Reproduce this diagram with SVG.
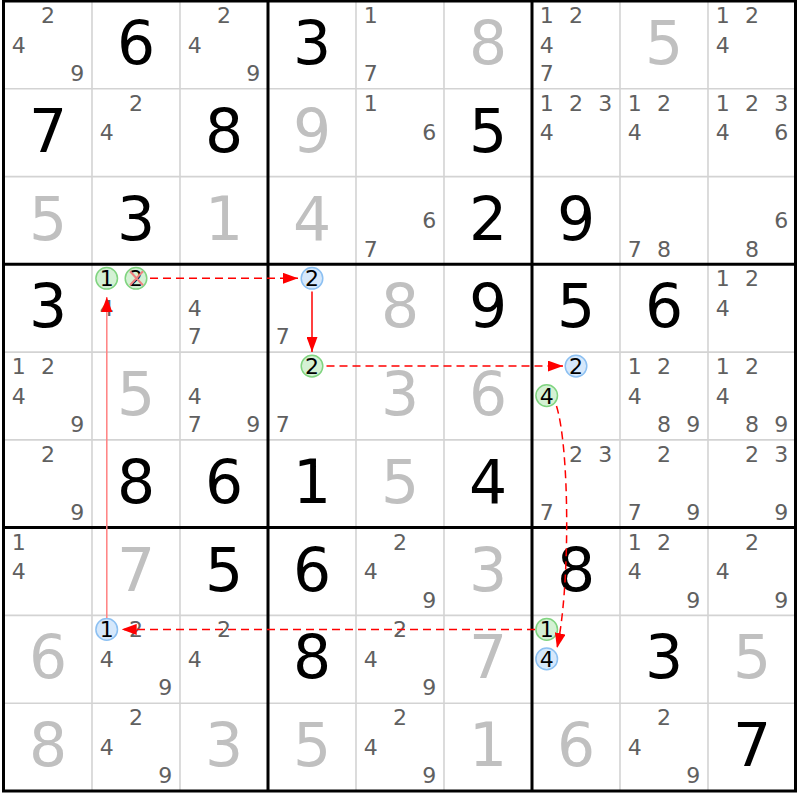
<svg xmlns="http://www.w3.org/2000/svg" width="800" height="800" viewBox="0 0 800 800">
<style>
text{font-family:"DejaVu Sans","Noto Sans",sans-serif}
.g{font-size:60px;fill:#000;text-anchor:middle}
.s{font-size:60px;fill:#c0c0c0;text-anchor:middle}
.c{font-size:22px;fill:#606060;text-anchor:middle}
.k{font-size:22px;fill:#000;text-anchor:middle}
.thin{stroke:#d3d3d3;stroke-width:1.6}
.thick{stroke:#000;stroke-width:3}
.hg{fill:#d4f1d4;stroke:#80d480;stroke-width:1.5}
.hb{fill:#d6e8fb;stroke:#8cc0f2;stroke-width:1.5}
.dash{stroke:#ff0000;stroke-width:1.5;stroke-dasharray:8 5;fill:none}
.sol{stroke:#ff0000;stroke-width:1.5;fill:none}
</style>
<defs>
<marker id="ah" viewBox="0 0 15 11" markerUnits="userSpaceOnUse" markerWidth="15" markerHeight="11" refX="15" refY="5.5" orient="auto"><path d="M0,0 L15,5.5 L0,11 z" fill="#ff0000"/></marker>
</defs>
<rect x="0" y="0" width="800" height="800" fill="#fff"/>
<g id="gridlines">
<line class="thin" x1="92" y1="1" x2="92" y2="791"/>
<line class="thin" x1="180" y1="1" x2="180" y2="791"/>
<line class="thin" x1="356" y1="1" x2="356" y2="791"/>
<line class="thin" x1="444" y1="1" x2="444" y2="791"/>
<line class="thin" x1="620" y1="1" x2="620" y2="791"/>
<line class="thin" x1="708" y1="1" x2="708" y2="791"/>
<line class="thin" x1="4" y1="88.8" x2="796" y2="88.8"/>
<line class="thin" x1="4" y1="176.6" x2="796" y2="176.6"/>
<line class="thin" x1="4" y1="352.1" x2="796" y2="352.1"/>
<line class="thin" x1="4" y1="439.9" x2="796" y2="439.9"/>
<line class="thin" x1="4" y1="615.4" x2="796" y2="615.4"/>
<line class="thin" x1="4" y1="703.2" x2="796" y2="703.2"/>
<line class="thick" x1="268" y1="1" x2="268" y2="791"/>
<line class="thick" x1="532" y1="1" x2="532" y2="791"/>
<line class="thick" x1="4" y1="264.3" x2="796" y2="264.3"/>
<line class="thick" x1="4" y1="527.6" x2="796" y2="527.6"/>
<rect x="3.5" y="1" width="792" height="790" fill="none" stroke="#000" stroke-width="3"/>
</g>
<!-- Row 1 -->
<g id="r1c1" transform="translate(4,1)"><text class="c" x="44" y="22">2</text><text class="c" x="14.7" y="51.5">4</text><text class="c" x="73.3" y="80">9</text></g>
<g id="r1c2" transform="translate(92,1)"><text class="g" x="44" y="63">6</text></g>
<g id="r1c3" transform="translate(180,1)"><text class="c" x="44" y="22">2</text><text class="c" x="14.7" y="51.5">4</text><text class="c" x="73.3" y="80">9</text></g>
<g id="r1c4" transform="translate(268,1)"><text class="g" x="44" y="63">3</text></g>
<g id="r1c5" transform="translate(356,1)"><text class="c" x="14.7" y="22">1</text><text class="c" x="14.7" y="80">7</text></g>
<g id="r1c6" transform="translate(444,1)"><text class="s" x="44" y="63">8</text></g>
<g id="r1c7" transform="translate(532,1)"><text class="c" x="14.7" y="22">1</text><text class="c" x="44" y="22">2</text><text class="c" x="14.7" y="51.5">4</text><text class="c" x="14.7" y="80">7</text></g>
<g id="r1c8" transform="translate(620,1)"><text class="s" x="44" y="63">5</text></g>
<g id="r1c9" transform="translate(708,1)"><text class="c" x="14.7" y="22">1</text><text class="c" x="44" y="22">2</text><text class="c" x="14.7" y="51.5">4</text></g>
<!-- Row 2 -->
<g id="r2c1" transform="translate(4,88.8)"><text class="g" x="44" y="63">7</text></g>
<g id="r2c2" transform="translate(92,88.8)"><text class="c" x="44" y="22">2</text><text class="c" x="14.7" y="51.5">4</text></g>
<g id="r2c3" transform="translate(180,88.8)"><text class="g" x="44" y="63">8</text></g>
<g id="r2c4" transform="translate(268,88.8)"><text class="s" x="44" y="63">9</text></g>
<g id="r2c5" transform="translate(356,88.8)"><text class="c" x="14.7" y="22">1</text><text class="c" x="73.3" y="51.5">6</text></g>
<g id="r2c6" transform="translate(444,88.8)"><text class="g" x="44" y="63">5</text></g>
<g id="r2c7" transform="translate(532,88.8)"><text class="c" x="14.7" y="22">1</text><text class="c" x="44" y="22">2</text><text class="c" x="73.3" y="22">3</text><text class="c" x="14.7" y="51.5">4</text></g>
<g id="r2c8" transform="translate(620,88.8)"><text class="c" x="14.7" y="22">1</text><text class="c" x="44" y="22">2</text><text class="c" x="14.7" y="51.5">4</text></g>
<g id="r2c9" transform="translate(708,88.8)"><text class="c" x="14.7" y="22">1</text><text class="c" x="44" y="22">2</text><text class="c" x="73.3" y="22">3</text><text class="c" x="14.7" y="51.5">4</text><text class="c" x="73.3" y="51.5">6</text></g>
<!-- Row 3 -->
<g id="r3c1" transform="translate(4,176.6)"><text class="s" x="44" y="63">5</text></g>
<g id="r3c2" transform="translate(92,176.6)"><text class="g" x="44" y="63">3</text></g>
<g id="r3c3" transform="translate(180,176.6)"><text class="s" x="44" y="63">1</text></g>
<g id="r3c4" transform="translate(268,176.6)"><text class="s" x="44" y="63">4</text></g>
<g id="r3c5" transform="translate(356,176.6)"><text class="c" x="73.3" y="51.5">6</text><text class="c" x="14.7" y="80">7</text></g>
<g id="r3c6" transform="translate(444,176.6)"><text class="g" x="44" y="63">2</text></g>
<g id="r3c7" transform="translate(532,176.6)"><text class="g" x="44" y="63">9</text></g>
<g id="r3c8" transform="translate(620,176.6)"><text class="c" x="14.7" y="80">7</text><text class="c" x="44" y="80">8</text></g>
<g id="r3c9" transform="translate(708,176.6)"><text class="c" x="73.3" y="51.5">6</text><text class="c" x="44" y="80">8</text></g>
<!-- Row 4 -->
<g id="r4c1" transform="translate(4,264.3)"><text class="g" x="44" y="63">3</text></g>
<g id="r4c2" transform="translate(92,264.3)"><text class="c" x="14.7" y="51.5">4</text><circle class="hg" cx="14.7" cy="14" r="10.8"/><text class="k" x="14.7" y="22">1</text><circle class="hg" cx="44" cy="14" r="10.8"/><text class="k" x="44" y="22">2</text><path d="M38,7 L51,21 M51,7 L38,21" stroke="#f08080" stroke-width="2" fill="none"/></g>
<g id="r4c3" transform="translate(180,264.3)"><text class="c" x="14.7" y="51.5">4</text><text class="c" x="14.7" y="80">7</text></g>
<g id="r4c4" transform="translate(268,264.3)"><circle class="hb" cx="44" cy="14" r="10.8"/><text class="k" x="44" y="22">2</text><text class="c" x="14.7" y="80">7</text></g>
<g id="r4c5" transform="translate(356,264.3)"><text class="s" x="44" y="63">8</text></g>
<g id="r4c6" transform="translate(444,264.3)"><text class="g" x="44" y="63">9</text></g>
<g id="r4c7" transform="translate(532,264.3)"><text class="g" x="44" y="63">5</text></g>
<g id="r4c8" transform="translate(620,264.3)"><text class="g" x="44" y="63">6</text></g>
<g id="r4c9" transform="translate(708,264.3)"><text class="c" x="14.7" y="22">1</text><text class="c" x="44" y="22">2</text><text class="c" x="14.7" y="51.5">4</text></g>
<!-- Row 5 -->
<g id="r5c1" transform="translate(4,352.1)"><text class="c" x="14.7" y="22">1</text><text class="c" x="44" y="22">2</text><text class="c" x="14.7" y="51.5">4</text><text class="c" x="73.3" y="80">9</text></g>
<g id="r5c2" transform="translate(92,352.1)"><text class="s" x="44" y="63">5</text></g>
<g id="r5c3" transform="translate(180,352.1)"><text class="c" x="14.7" y="51.5">4</text><text class="c" x="14.7" y="80">7</text><text class="c" x="73.3" y="80">9</text></g>
<g id="r5c4" transform="translate(268,352.1)"><circle class="hg" cx="44" cy="14" r="10.8"/><text class="k" x="44" y="22">2</text><text class="c" x="14.7" y="80">7</text></g>
<g id="r5c5" transform="translate(356,352.1)"><text class="s" x="44" y="63">3</text></g>
<g id="r5c6" transform="translate(444,352.1)"><text class="s" x="44" y="63">6</text></g>
<g id="r5c7" transform="translate(532,352.1)"><circle class="hb" cx="44" cy="14" r="10.8"/><text class="k" x="44" y="22">2</text><circle class="hg" cx="14.7" cy="43.5" r="10.8"/><text class="k" x="14.7" y="51.5">4</text></g>
<g id="r5c8" transform="translate(620,352.1)"><text class="c" x="14.7" y="22">1</text><text class="c" x="44" y="22">2</text><text class="c" x="14.7" y="51.5">4</text><text class="c" x="44" y="80">8</text><text class="c" x="73.3" y="80">9</text></g>
<g id="r5c9" transform="translate(708,352.1)"><text class="c" x="14.7" y="22">1</text><text class="c" x="44" y="22">2</text><text class="c" x="14.7" y="51.5">4</text><text class="c" x="44" y="80">8</text><text class="c" x="73.3" y="80">9</text></g>
<!-- Row 6 -->
<g id="r6c1" transform="translate(4,439.9)"><text class="c" x="44" y="22">2</text><text class="c" x="73.3" y="80">9</text></g>
<g id="r6c2" transform="translate(92,439.9)"><text class="g" x="44" y="63">8</text></g>
<g id="r6c3" transform="translate(180,439.9)"><text class="g" x="44" y="63">6</text></g>
<g id="r6c4" transform="translate(268,439.9)"><text class="g" x="44" y="63">1</text></g>
<g id="r6c5" transform="translate(356,439.9)"><text class="s" x="44" y="63">5</text></g>
<g id="r6c6" transform="translate(444,439.9)"><text class="g" x="44" y="63">4</text></g>
<g id="r6c7" transform="translate(532,439.9)"><text class="c" x="44" y="22">2</text><text class="c" x="73.3" y="22">3</text><text class="c" x="14.7" y="80">7</text></g>
<g id="r6c8" transform="translate(620,439.9)"><text class="c" x="44" y="22">2</text><text class="c" x="14.7" y="80">7</text><text class="c" x="73.3" y="80">9</text></g>
<g id="r6c9" transform="translate(708,439.9)"><text class="c" x="44" y="22">2</text><text class="c" x="73.3" y="22">3</text><text class="c" x="73.3" y="80">9</text></g>
<!-- Row 7 -->
<g id="r7c1" transform="translate(4,527.6)"><text class="c" x="14.7" y="22">1</text><text class="c" x="14.7" y="51.5">4</text></g>
<g id="r7c2" transform="translate(92,527.6)"><text class="s" x="44" y="63">7</text></g>
<g id="r7c3" transform="translate(180,527.6)"><text class="g" x="44" y="63">5</text></g>
<g id="r7c4" transform="translate(268,527.6)"><text class="g" x="44" y="63">6</text></g>
<g id="r7c5" transform="translate(356,527.6)"><text class="c" x="44" y="22">2</text><text class="c" x="14.7" y="51.5">4</text><text class="c" x="73.3" y="80">9</text></g>
<g id="r7c6" transform="translate(444,527.6)"><text class="s" x="44" y="63">3</text></g>
<g id="r7c7" transform="translate(532,527.6)"><text class="g" x="44" y="63">8</text></g>
<g id="r7c8" transform="translate(620,527.6)"><text class="c" x="14.7" y="22">1</text><text class="c" x="44" y="22">2</text><text class="c" x="14.7" y="51.5">4</text><text class="c" x="73.3" y="80">9</text></g>
<g id="r7c9" transform="translate(708,527.6)"><text class="c" x="44" y="22">2</text><text class="c" x="14.7" y="51.5">4</text><text class="c" x="73.3" y="80">9</text></g>
<!-- Row 8 -->
<g id="r8c1" transform="translate(4,615.4)"><text class="s" x="44" y="63">6</text></g>
<g id="r8c2" transform="translate(92,615.4)"><circle class="hb" cx="14.7" cy="14" r="10.8"/><text class="k" x="14.7" y="22">1</text><text class="c" x="44" y="22">2</text><text class="c" x="14.7" y="51.5">4</text><text class="c" x="73.3" y="80">9</text></g>
<g id="r8c3" transform="translate(180,615.4)"><text class="c" x="44" y="22">2</text><text class="c" x="14.7" y="51.5">4</text></g>
<g id="r8c4" transform="translate(268,615.4)"><text class="g" x="44" y="63">8</text></g>
<g id="r8c5" transform="translate(356,615.4)"><text class="c" x="44" y="22">2</text><text class="c" x="14.7" y="51.5">4</text><text class="c" x="73.3" y="80">9</text></g>
<g id="r8c6" transform="translate(444,615.4)"><text class="s" x="44" y="63">7</text></g>
<g id="r8c7" transform="translate(532,615.4)"><circle class="hg" cx="14.7" cy="14" r="10.8"/><text class="k" x="14.7" y="22">1</text><circle class="hb" cx="14.7" cy="43.5" r="10.8"/><text class="k" x="14.7" y="51.5">4</text></g>
<g id="r8c8" transform="translate(620,615.4)"><text class="g" x="44" y="63">3</text></g>
<g id="r8c9" transform="translate(708,615.4)"><text class="s" x="44" y="63">5</text></g>
<!-- Row 9 -->
<g id="r9c1" transform="translate(4,703.2)"><text class="s" x="44" y="63">8</text></g>
<g id="r9c2" transform="translate(92,703.2)"><text class="c" x="44" y="22">2</text><text class="c" x="14.7" y="51.5">4</text><text class="c" x="73.3" y="80">9</text></g>
<g id="r9c3" transform="translate(180,703.2)"><text class="s" x="44" y="63">3</text></g>
<g id="r9c4" transform="translate(268,703.2)"><text class="s" x="44" y="63">5</text></g>
<g id="r9c5" transform="translate(356,703.2)"><text class="c" x="44" y="22">2</text><text class="c" x="14.7" y="51.5">4</text><text class="c" x="73.3" y="80">9</text></g>
<g id="r9c6" transform="translate(444,703.2)"><text class="s" x="44" y="63">1</text></g>
<g id="r9c7" transform="translate(532,703.2)"><text class="s" x="44" y="63">6</text></g>
<g id="r9c8" transform="translate(620,703.2)"><text class="c" x="44" y="22">2</text><text class="c" x="14.7" y="51.5">4</text><text class="c" x="73.3" y="80">9</text></g>
<g id="r9c9" transform="translate(708,703.2)"><text class="g" x="44" y="63">7</text></g>
<g id="connectors">
<line x1="106.8" y1="618" x2="106.8" y2="297" stroke="#ff8080" stroke-width="1.5" marker-end="url(#ah)"/>
<line class="dash" x1="150" y1="278.3" x2="298" y2="278.3" marker-end="url(#ah)"/>
<line class="sol" x1="312" y1="291.5" x2="312" y2="352" marker-end="url(#ah)"/>
<line class="dash" x1="326.5" y1="366.1" x2="563" y2="366.1" marker-end="url(#ah)"/>
<path class="dash" d="M556.5,406 C570,450 570,590 557,648" marker-end="url(#ah)"/>
<line class="dash" x1="535" y1="629.4" x2="121.7" y2="629.4" marker-end="url(#ah)"/>
</g>
</svg>
